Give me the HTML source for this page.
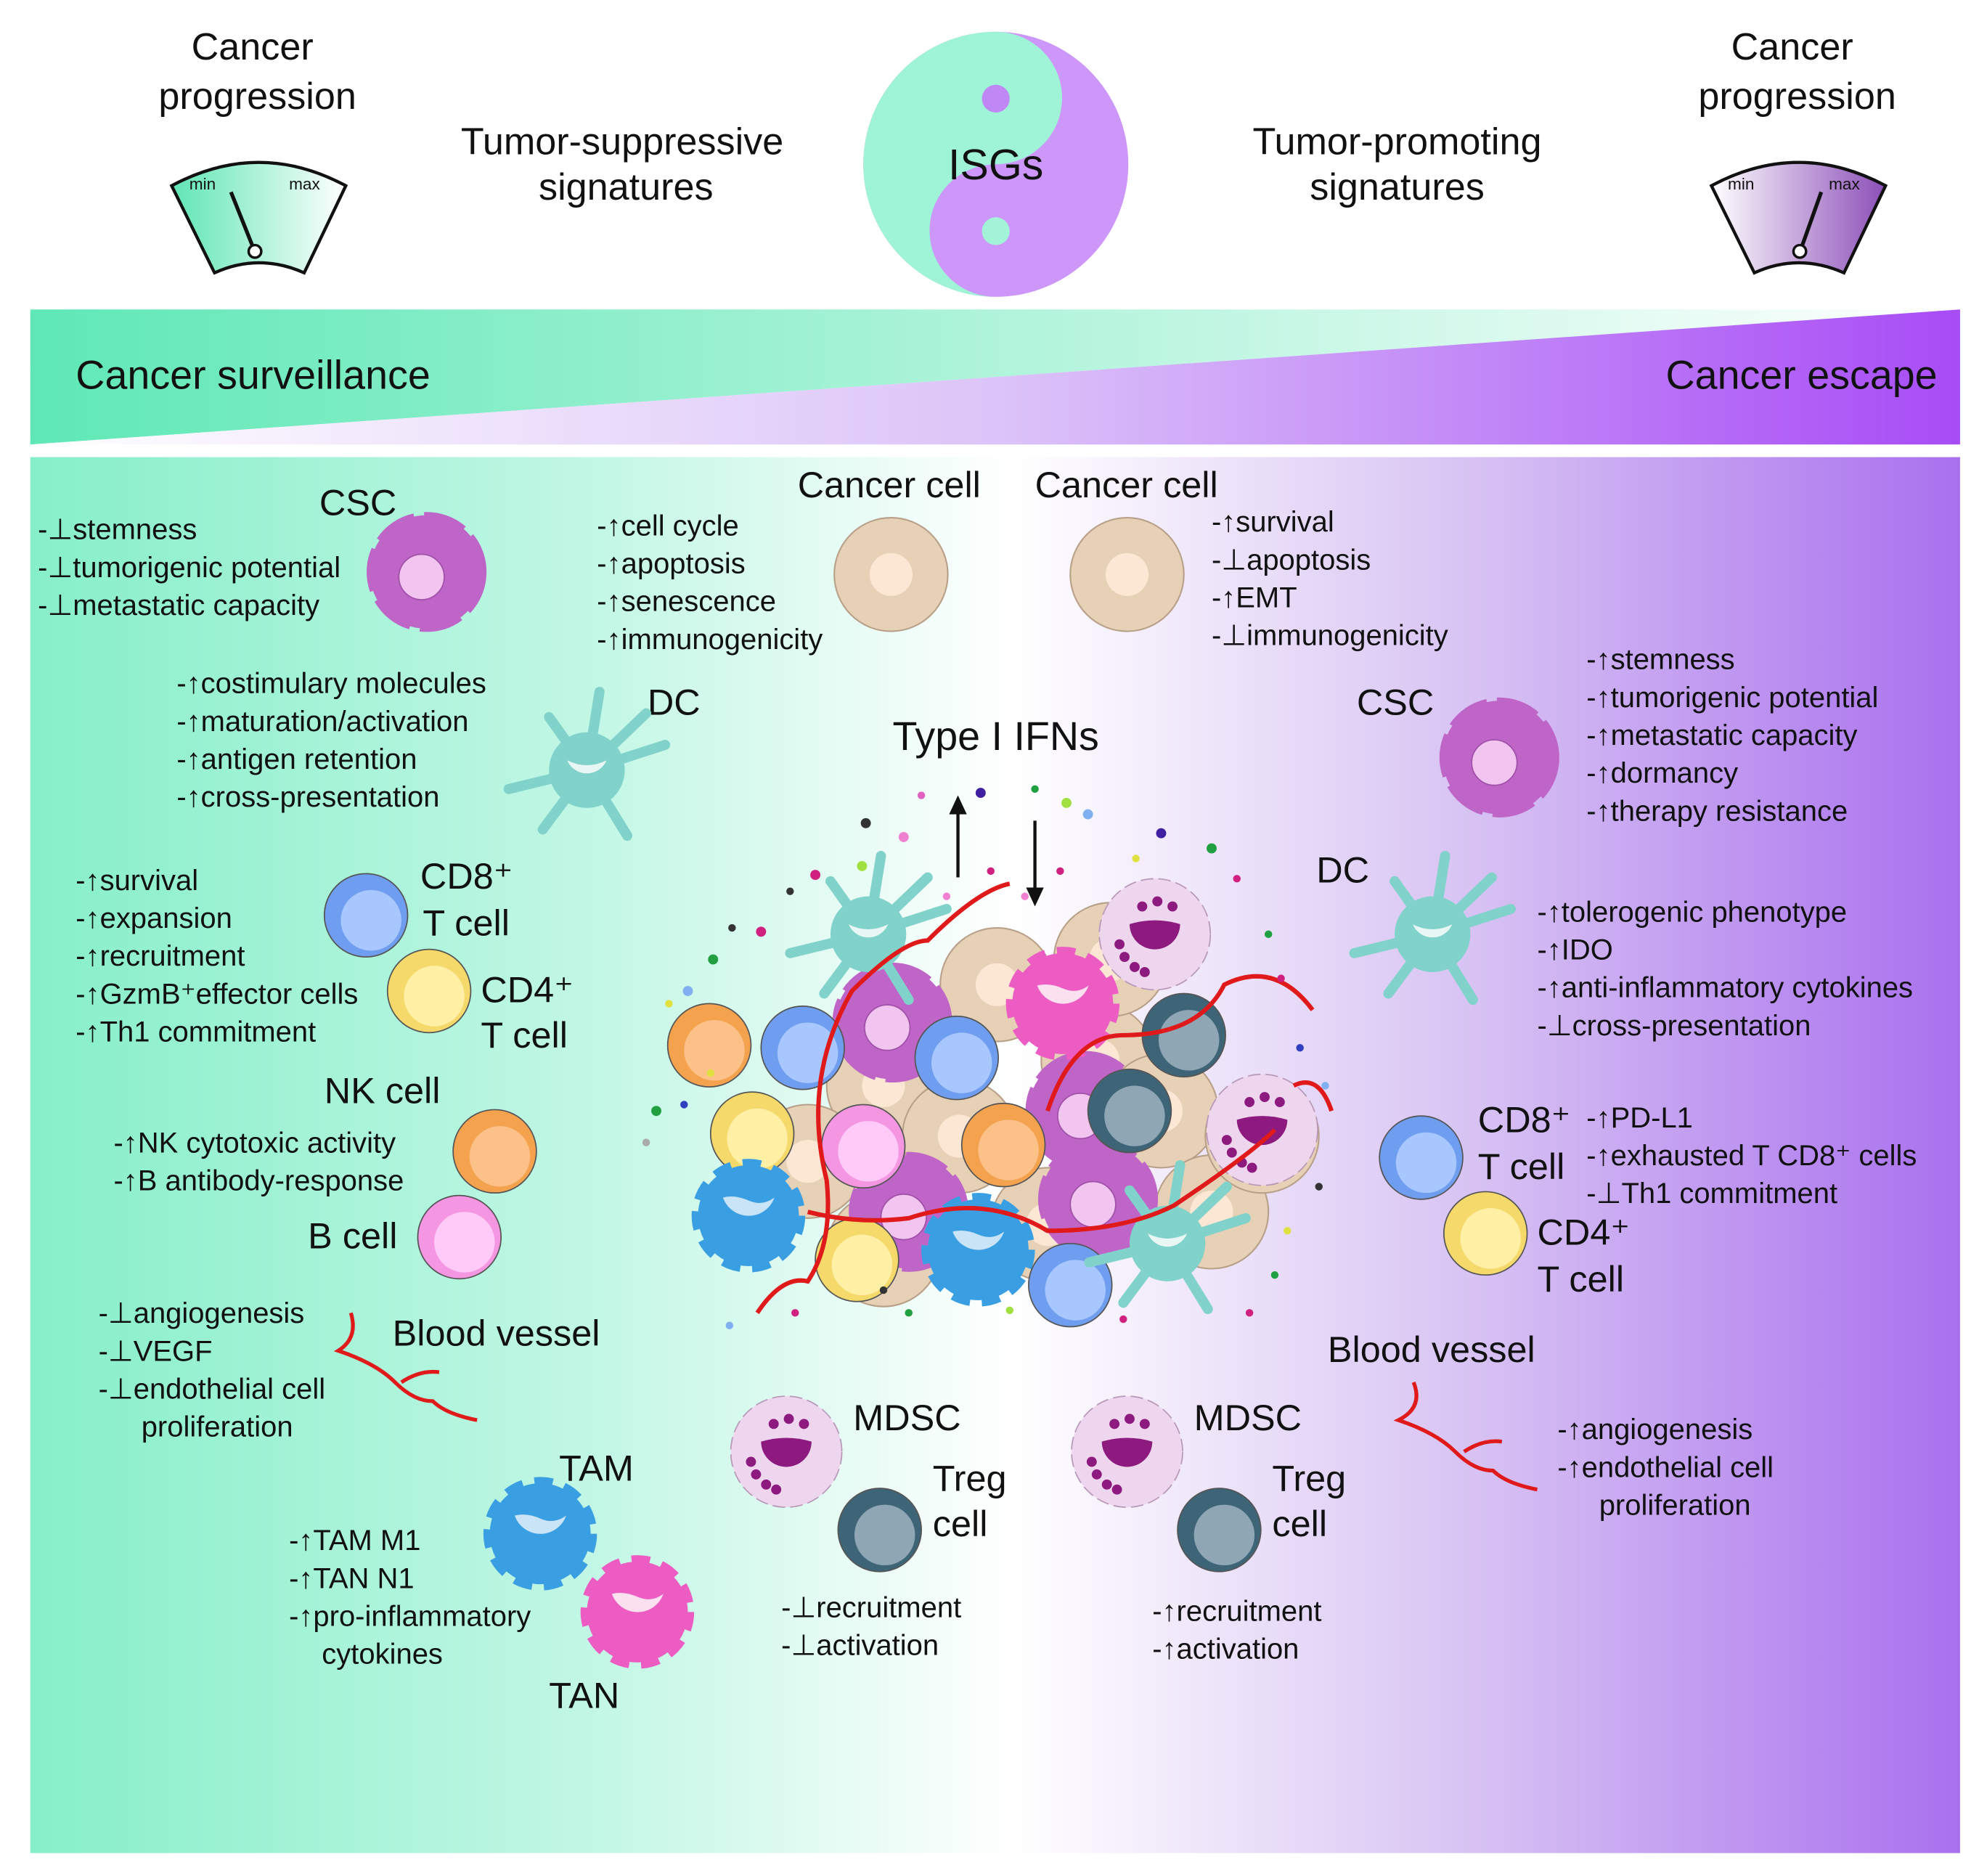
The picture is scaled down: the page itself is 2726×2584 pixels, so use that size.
<!DOCTYPE html>
<html><head><meta charset="utf-8"><style>
html,body{margin:0;padding:0;background:#fff}
svg{display:block}
text{font-family:"Liberation Sans",Arial,sans-serif;fill:#111}
.t{font-size:30px}
.l{font-size:23px}
.m{font-size:29px}
</style></head><body>
<svg width="2726" height="2584" viewBox="0 0 1568 1486" xmlns="http://www.w3.org/2000/svg">
<defs>
<linearGradient id="gTop" x1="0" x2="1" y1="0" y2="0"><stop offset="0" stop-color="#5fe8b6"/><stop offset="1" stop-color="#ffffff"/></linearGradient>
<linearGradient id="gBot" x1="0" x2="1" y1="0" y2="0"><stop offset="0" stop-color="#ffffff"/><stop offset="0.5" stop-color="#dcc4f8"/><stop offset="1" stop-color="#a84cf6"/></linearGradient>
<linearGradient id="gMain" x1="0" x2="1" y1="0" y2="0"><stop offset="0" stop-color="#86efc9"/><stop offset="0.3" stop-color="#c4f7e6"/><stop offset="0.51" stop-color="#ffffff"/><stop offset="0.75" stop-color="#d7c2f3"/><stop offset="1" stop-color="#a970ee"/></linearGradient>
<linearGradient id="gGL" x1="0" x2="1"><stop offset="0" stop-color="#60e6b4"/><stop offset="1" stop-color="#ffffff"/></linearGradient>
<linearGradient id="gGR" x1="0" x2="1"><stop offset="0" stop-color="#ffffff"/><stop offset="1" stop-color="#8c4fb8"/></linearGradient>
<g id="lym"><circle r="33" fill="var(--a)" stroke="#555" stroke-width="1"/><circle cx="4" cy="4" r="24" fill="var(--b)"/></g>
<g id="gear"><circle r="40" fill="var(--a)" stroke="var(--a)" stroke-width="10" stroke-dasharray="14 9"/><path d="M-16,-12 a18,18 0 0,0 34,0 q-8,6 -17,2 q-9,-4 -17,-2z" transform="translate(-1,0) scale(1.2)" fill="var(--b)"/></g>
<g id="csc"><circle r="45" fill="#c065c8" stroke="#c065c8" stroke-width="5" stroke-dasharray="34 8" stroke-linejoin="round"/><circle cx="-4" cy="4" r="18" fill="#f2c4f0" stroke="#a050a8" stroke-width="1"/></g>
<g id="can"><circle r="45" fill="#e6d0b6" stroke="#b8a088" stroke-width="1.2"/><circle r="17" fill="#fbe7d3"/></g>
<g id="dc" stroke="#80d2cb" stroke-linecap="round" fill="none"><path d="M0,0 L-62,15 M0,0 L62,-20 M0,0 L32,52 M0,0 L-35,47 M0,0 L10,-62 M0,0 L-30,-42 M0,0 L47,-45" stroke-width="8"/><circle r="30" fill="#80d2cb" stroke="none"/><path d="M-12,-6 a13,13 0 0,0 24,0 q-12,6 -24,0z" fill="#e8f6f4" stroke="none" transform="scale(1.3)"/></g>
<g id="mdsc"><circle r="44" fill="#efd6ef" stroke="#b898b8" stroke-width="1" stroke-dasharray="10 4"/><path d="M-20,-8 a20,20 0 0,0 40,0 q-20,-6 -40,0z" fill="#8d1a7e"/><g fill="#8d1a7e"><circle cx="-10" cy="-22" r="4"/><circle cx="2" cy="-26" r="4"/><circle cx="14" cy="-22" r="4"/><circle cx="-24" cy="18" r="4"/><circle cx="-16" cy="26" r="4"/><circle cx="-28" cy="8" r="4"/><circle cx="-8" cy="30" r="4"/></g></g>
</defs>

<text class="t" x="200" y="47" text-anchor="middle">Cancer</text>
<text class="t" x="204" y="86" text-anchor="middle">progression</text>
<text class="t" x="1420" y="47" text-anchor="middle">Cancer</text>
<text class="t" x="1424" y="86" text-anchor="middle">progression</text>
<text class="t" x="493" y="122" text-anchor="middle">Tumor-suppressive</text>
<text class="t" x="496" y="158" text-anchor="middle">signatures</text>
<text class="t" x="1107" y="122" text-anchor="middle">Tumor-promoting</text>
<text class="t" x="1107" y="158" text-anchor="middle">signatures</text>
<path d="M136,147 Q205,110 274,147 L241,216 Q205,200 170,216 Z" fill="url(#gGL)" stroke="#111" stroke-width="2.5"/>
<text x="150" y="150" style="font-size:13px">min</text><text x="229" y="150" style="font-size:13px">max</text>
<line x1="183" y1="152" x2="201" y2="197" stroke="#111" stroke-width="3"/><circle cx="202" cy="199" r="5" fill="#fff" stroke="#111" stroke-width="2"/>
<path d="M1356,147 Q1425,110 1494,147 L1461,216 Q1425,200 1390,216 Z" fill="url(#gGR)" stroke="#111" stroke-width="2.5"/>
<text x="1369" y="150" style="font-size:13px">min</text><text x="1449" y="150" style="font-size:13px">max</text>
<line x1="1443" y1="152" x2="1427" y2="197" stroke="#111" stroke-width="3"/><circle cx="1426" cy="199" r="5" fill="#fff" stroke="#111" stroke-width="2"/>
<circle cx="789" cy="130" r="105" fill="#cc97f8"/>
<path d="M789,25 A105,105 0 0,0 789,235 A52.5,52.5 0 0,1 789,130 A52.5,52.5 0 0,0 789,25Z" fill="#9ff3d7"/>
<circle cx="789" cy="78" r="11" fill="#c088f5"/><circle cx="789" cy="183" r="11" fill="#a3f3d9"/>
<text x="789" y="142" text-anchor="middle" style="font-size:34px">ISGs</text>
<polygon points="24,245 1553,245 24,352" fill="url(#gTop)"/>
<polygon points="1553,245 1553,352 24,352" fill="url(#gBot)"/>
<text x="60" y="308" style="font-size:32px">Cancer surveillance</text>
<text x="1535" y="308" text-anchor="end" style="font-size:32px">Cancer escape</text>
<rect x="24" y="362" width="1529" height="1106" fill="url(#gMain)"/>

<text class="m" x="253" y="408">CSC</text>
<text class="l" x="30" y="427">-⊥stemness</text>
<text class="l" x="30" y="457">-⊥tumorigenic potential</text>
<text class="l" x="30" y="487">-⊥metastatic capacity</text>
<text class="m" x="632" y="394">Cancer cell</text>
<text class="l" x="473" y="424">-↑cell cycle</text>
<text class="l" x="473" y="454">-↑apoptosis</text>
<text class="l" x="473" y="484">-↑senescence</text>
<text class="l" x="473" y="514">-↑immunogenicity</text>
<text class="m" x="820" y="394">Cancer cell</text>
<text class="l" x="960" y="421">-↑survival</text>
<text class="l" x="960" y="451">-⊥apoptosis</text>
<text class="l" x="960" y="481">-↑EMT</text>
<text class="l" x="960" y="511">-⊥immunogenicity</text>
<text class="m" x="513" y="566">DC</text>
<text class="l" x="140" y="549">-↑costimulary molecules</text>
<text class="l" x="140" y="579">-↑maturation/activation</text>
<text class="l" x="140" y="609">-↑antigen retention</text>
<text class="l" x="140" y="639">-↑cross-presentation</text>
<text x="789" y="594" text-anchor="middle" style="font-size:32px">Type I IFNs</text>
<text class="m" x="1075" y="566">CSC</text>
<text class="l" x="1257" y="530">-↑stemness</text>
<text class="l" x="1257" y="560">-↑tumorigenic potential</text>
<text class="l" x="1257" y="590">-↑metastatic capacity</text>
<text class="l" x="1257" y="620">-↑dormancy</text>
<text class="l" x="1257" y="650">-↑therapy resistance</text>
<text class="m" x="1043" y="699">DC</text>
<text class="l" x="1218" y="730">-↑tolerogenic phenotype</text>
<text class="l" x="1218" y="760">-↑IDO</text>
<text class="l" x="1218" y="790">-↑anti-inflammatory cytokines</text>
<text class="l" x="1218" y="820">-⊥cross-presentation</text>
<text class="l" x="60" y="705">-↑survival</text>
<text class="l" x="60" y="735">-↑expansion</text>
<text class="l" x="60" y="765">-↑recruitment</text>
<text class="l" x="60" y="795">-↑GzmB⁺effector cells</text>
<text class="l" x="60" y="825">-↑Th1 commitment</text>
<text class="m" x="333" y="704">CD8⁺</text><text class="m" x="335" y="741">T cell</text>
<text class="m" x="381" y="794">CD4⁺</text><text class="m" x="381" y="830">T cell</text>
<text class="m" x="257" y="874">NK cell</text>
<text class="l" x="90" y="913">-↑NK cytotoxic activity</text>
<text class="l" x="90" y="943">-↑B antibody-response</text>
<text class="m" x="244" y="989">B cell</text>
<text class="l" x="78" y="1048">-⊥angiogenesis</text>
<text class="l" x="78" y="1078">-⊥VEGF</text>
<text class="l" x="78" y="1108">-⊥endothelial cell</text>
<text class="l" x="112" y="1138">proliferation</text>
<text class="m" x="311" y="1066">Blood vessel</text>
<text class="m" x="443" y="1173">TAM</text>
<text class="l" x="229" y="1228">-↑TAM M1</text>
<text class="l" x="229" y="1258">-↑TAN N1</text>
<text class="l" x="229" y="1288">-↑pro-inflammatory</text>
<text class="l" x="255" y="1318">cytokines</text>
<text class="m" x="435" y="1353">TAN</text>
<text class="m" x="676" y="1133">MDSC</text>
<text class="m" x="739" y="1181">Treg</text><text class="m" x="739" y="1217">cell</text>
<text class="l" x="619" y="1281">-⊥recruitment</text>
<text class="l" x="619" y="1311">-⊥activation</text>
<text class="m" x="946" y="1133">MDSC</text>
<text class="m" x="1008" y="1181">Treg</text><text class="m" x="1008" y="1217">cell</text>
<text class="l" x="913" y="1284">-↑recruitment</text>
<text class="l" x="913" y="1314">-↑activation</text>
<text class="m" x="1171" y="897">CD8⁺</text><text class="m" x="1171" y="934">T cell</text>
<text class="l" x="1257" y="893">-↑PD-L1</text>
<text class="l" x="1257" y="923">-↑exhausted T CD8⁺ cells</text>
<text class="l" x="1257" y="953">-⊥Th1 commitment</text>
<text class="m" x="1218" y="986">CD4⁺</text><text class="m" x="1218" y="1023">T cell</text>
<text class="m" x="1052" y="1079">Blood vessel</text>
<text class="l" x="1234" y="1140">-↑angiogenesis</text>
<text class="l" x="1234" y="1170">-↑endothelial cell</text>
<text class="l" x="1267" y="1200">proliferation</text>

<use href="#csc" x="338" y="453"/>
<use href="#can" x="706" y="455"/>
<use href="#can" x="893" y="455"/>
<use href="#dc" x="465" y="610"/>
<use href="#lym" x="290" y="725" style="--a:#6f9ef0;--b:#a9c7ff"/>
<use href="#lym" x="340" y="785" style="--a:#f5d96a;--b:#fff0a6"/>
<use href="#lym" x="392" y="912" style="--a:#f5a24e;--b:#fbc188"/>
<use href="#lym" x="364" y="980" style="--a:#f596e2;--b:#ffcaf8"/>
<path d="M278,1040 q6,20 -10,30 q30,10 45,25 q15,15 30,15 q10,10 35,15 M318,1095 q15,-10 30,-8" stroke="#e01a1a" stroke-width="3" fill="none"/>
<use href="#gear" x="428" y="1215" style="--a:#3a9ee2;--b:#c8e4f6"/>
<use href="#gear" x="505" y="1277" style="--a:#ec5cc2;--b:#fbe0f0"/>
<use href="#mdsc" x="623" y="1150"/>
<use href="#lym" x="697" y="1212" style="--a:#3e6478;--b:#8fa6b5"/>
<use href="#csc" x="1188" y="600"/>
<use href="#dc" x="1135" y="740"/>
<use href="#lym" x="1126" y="917" style="--a:#6f9ef0;--b:#a9c7ff"/>
<use href="#lym" x="1177" y="977" style="--a:#f5d96a;--b:#fff0a6"/>
<path d="M1120,1095 q8,20 -12,30 q30,10 45,25 q15,15 30,15 q10,10 35,15 M1160,1150 q15,-10 30,-8" stroke="#e01a1a" stroke-width="3" fill="none"/>
<use href="#mdsc" x="893" y="1150"/>
<use href="#lym" x="966" y="1212" style="--a:#3e6478;--b:#8fa6b5"/>

<g>
<use href="#can" x="700" y="860"/><use href="#can" x="790" y="780"/><use href="#can" x="870" y="840"/>
<use href="#can" x="760" y="900"/><use href="#can" x="640" y="920"/><use href="#can" x="920" y="880"/>
<use href="#can" x="960" y="960"/><use href="#can" x="830" y="970"/><use href="#can" x="700" y="990"/>
<use href="#can" x="880" y="760"/><use href="#can" x="1000" y="900"/>
<use href="#csc" x="707" y="810"/><use href="#csc" x="860" y="880"/><use href="#csc" x="870" y="950"/><use href="#csc" x="720" y="960"/>
<use href="#gear" x="842" y="795" style="--a:#ec5cc2;--b:#fbe0f0"/>
<use href="#mdsc" x="915" y="740"/><use href="#mdsc" x="1000" y="895"/>
<use href="#dc" x="688" y="740"/>
<use href="#lym" x="562" y="828" style="--a:#f5a24e;--b:#fbc188"/>
<use href="#lym" x="636" y="830" style="--a:#6f9ef0;--b:#a9c7ff"/>
<use href="#lym" x="758" y="838" style="--a:#6f9ef0;--b:#a9c7ff"/>
<use href="#lym" x="938" y="820" style="--a:#3e6478;--b:#8fa6b5"/>
<use href="#lym" x="596" y="898" style="--a:#f5d96a;--b:#fff0a6"/>
<use href="#lym" x="684" y="908" style="--a:#f596e2;--b:#ffcaf8"/>
<use href="#lym" x="795" y="907" style="--a:#f5a24e;--b:#fbc188"/>
<use href="#lym" x="895" y="880" style="--a:#3e6478;--b:#8fa6b5"/>
<use href="#gear" x="593" y="963" style="--a:#3a9ee2;--b:#c8e4f6"/>
<use href="#gear" x="775" y="990" style="--a:#3a9ee2;--b:#c8e4f6"/>
<use href="#lym" x="679" y="998" style="--a:#f5d96a;--b:#fff0a6"/>
<use href="#lym" x="848" y="1018" style="--a:#6f9ef0;--b:#a9c7ff"/>
<use href="#dc" x="925" y="985"/>
<path d="M600,1040 q20,-30 40,-25 q20,-30 15,-80 q-20,-80 20,-150 q40,-40 60,-40 q40,-40 65,-45 M640,960 q40,10 80,5 q60,-20 110,10 q60,0 100,-20 q60,-40 80,-60 M830,880 q20,-60 60,-60 q60,0 80,-40 q40,-20 70,20 M1025,860 q20,-10 30,20" stroke="#e01a1a" stroke-width="3.5" fill="none"/>
<line x1="759" y1="695" x2="759" y2="640" stroke="#111" stroke-width="2.5"/><path d="M752,645 L759,630 L766,645Z" fill="#111"/>
<line x1="820" y1="650" x2="820" y2="708" stroke="#111" stroke-width="2.5"/><path d="M813,703 L820,718 L827,703Z" fill="#111"/>
<g>
<circle cx="686" cy="652" r="4" fill="#333"/><circle cx="730" cy="630" r="3" fill="#e060c0"/><circle cx="777" cy="628" r="4" fill="#4020a0"/><circle cx="820" cy="625" r="3" fill="#20a040"/><circle cx="845" cy="636" r="4" fill="#a0e040"/><circle cx="862" cy="645" r="4" fill="#80b0f0"/>
<circle cx="716" cy="663" r="4" fill="#f080d0"/><circle cx="683" cy="686" r="4" fill="#a0e040"/><circle cx="646" cy="693" r="4" fill="#d02080"/><circle cx="626" cy="706" r="3" fill="#333"/>
<circle cx="580" cy="735" r="3" fill="#333"/><circle cx="603" cy="738" r="4" fill="#d02080"/><circle cx="565" cy="760" r="4" fill="#20a040"/><circle cx="530" cy="795" r="3" fill="#e0e040"/><circle cx="545" cy="785" r="4" fill="#80b0f0"/>
<circle cx="520" cy="880" r="4" fill="#20a040"/><circle cx="542" cy="875" r="3" fill="#3040c0"/><circle cx="512" cy="905" r="3" fill="#aaa"/><circle cx="563" cy="850" r="3" fill="#e0e040"/>
<circle cx="920" cy="660" r="4" fill="#4020a0"/><circle cx="900" cy="680" r="3" fill="#e0e040"/><circle cx="960" cy="672" r="4" fill="#20a040"/><circle cx="980" cy="696" r="3" fill="#d02080"/><circle cx="1005" cy="740" r="3" fill="#20a040"/><circle cx="1015" cy="775" r="3" fill="#d02080"/><circle cx="1030" cy="830" r="3" fill="#3040c0"/><circle cx="1050" cy="860" r="3" fill="#80b0f0"/><circle cx="1045" cy="940" r="3" fill="#333"/><circle cx="1020" cy="975" r="3" fill="#e0e040"/><circle cx="1010" cy="1010" r="3" fill="#20a040"/><circle cx="990" cy="1040" r="3" fill="#d02080"/>
<circle cx="578" cy="1050" r="3" fill="#80b0f0"/><circle cx="630" cy="1040" r="3" fill="#d02080"/><circle cx="720" cy="1040" r="3" fill="#20a040"/><circle cx="800" cy="1038" r="3" fill="#a0e040"/><circle cx="890" cy="1045" r="3" fill="#d02080"/><circle cx="700" cy="1022" r="3" fill="#333"/>
<circle cx="812" cy="710" r="3" fill="#f080d0"/><circle cx="840" cy="690" r="3" fill="#d02080"/><circle cx="785" cy="690" r="3" fill="#d02080"/><circle cx="750" cy="710" r="3" fill="#f080d0"/>
</g>
</g>
</svg>
</body></html>
